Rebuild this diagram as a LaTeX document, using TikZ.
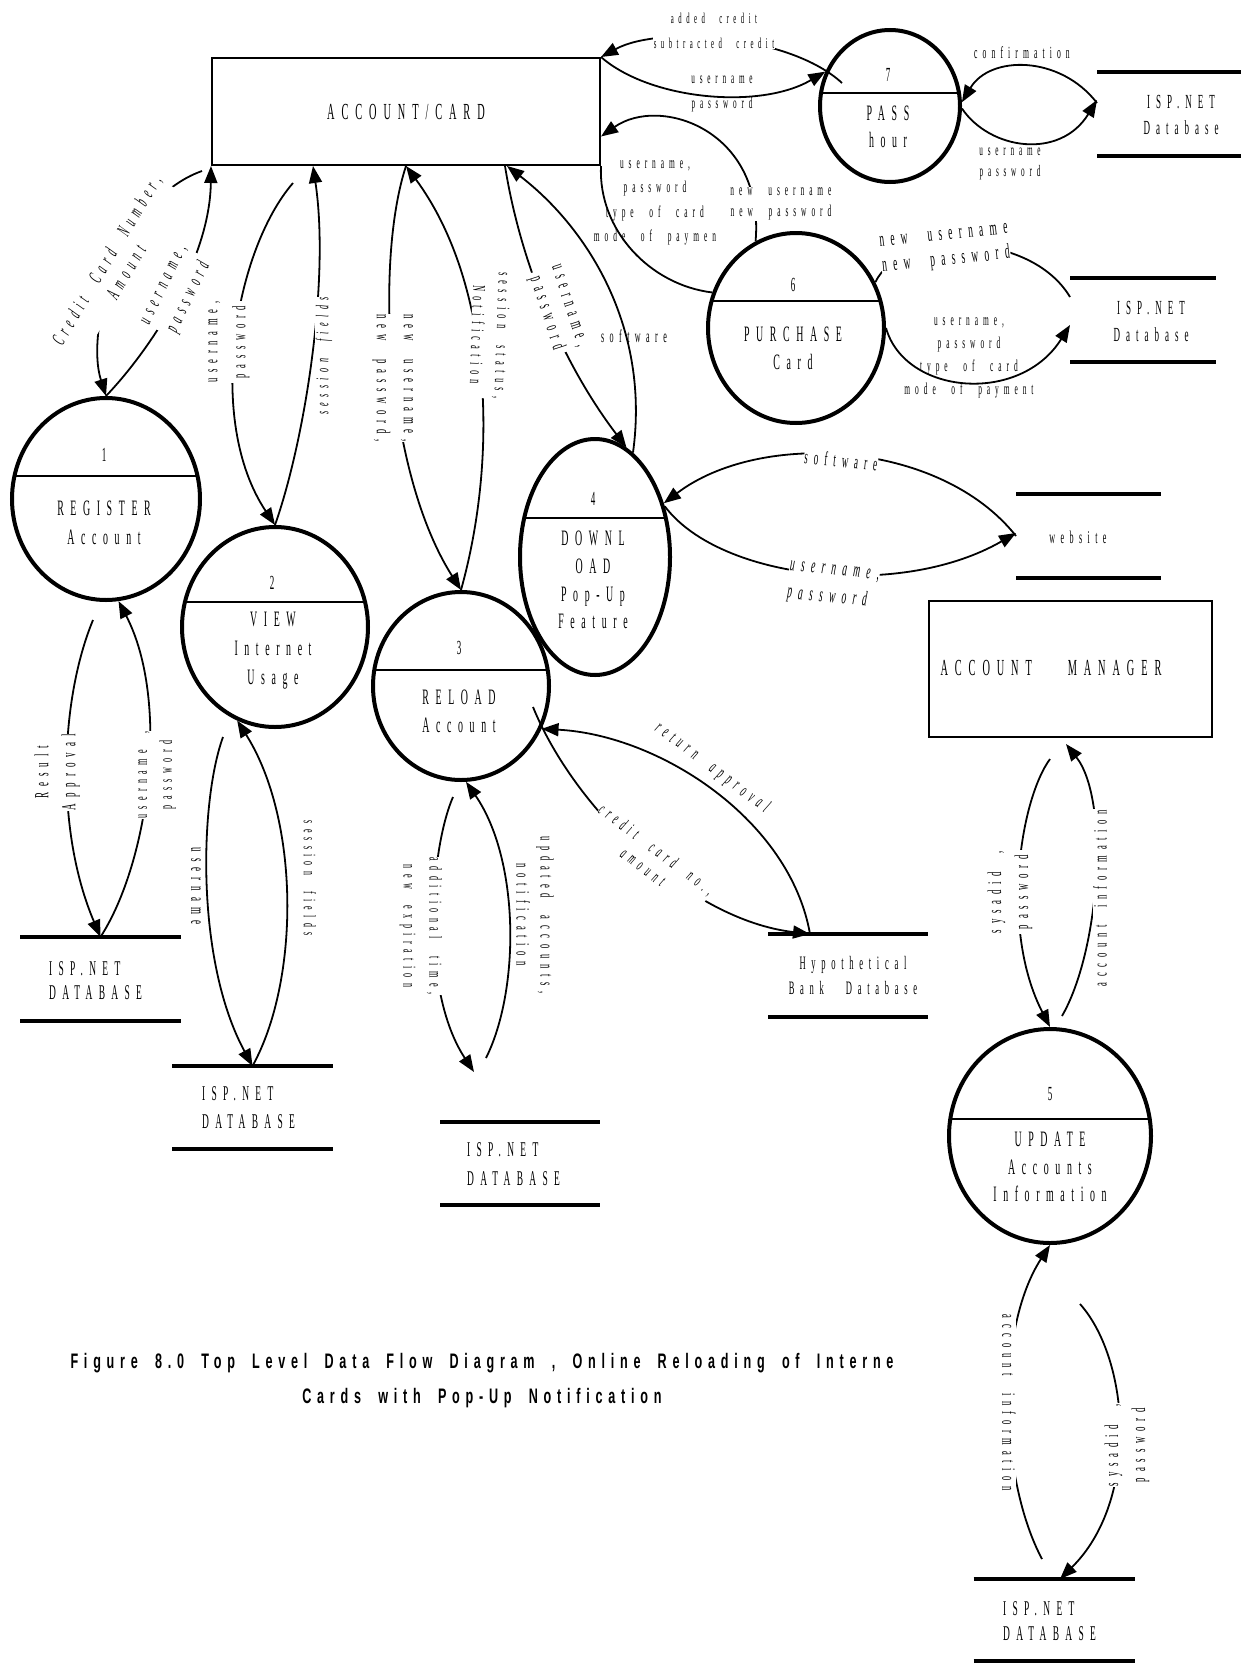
\documentclass[tikz,border=0pt]{standalone}
\usepackage{fontspec}
\newfontfamily\lf[FakeStretch=0.45,LetterSpace=30,WordSpace=2.3]{Liberation Serif}
\newfontfamily\cf[FakeStretch=0.6,LetterSpace=27.5,WordSpace=1.85]{Liberation Sans}
\usetikzlibrary{shapes.geometric,arrows.meta,calc}
\newcommand\lfs[2]{\lf\fontsize{#1}{#2}\selectfont}
\begin{document}
\begin{tikzpicture}[x=1pt,y=-1pt,
  lab/.style={font=\lfs{17}{21}, align=center, inner sep=0.5pt, text=black},
  wlab/.style={lab, fill=white},
  proc/.style={ellipse, draw, line width=4pt, inner sep=0pt},
  divl/.style={line width=2pt},
  ptxt/.style={font=\lfs{22}{29}, align=center, inner sep=0pt},
  pnum/.style={font=\lfs{20}{24}, inner sep=0pt},
  ent/.style={draw, line width=2pt, inner sep=0pt},
  dstore/.style={inner sep=0pt, outer sep=0pt},
  sline/.style={line width=4pt},
  stxt/.style={font=\lfs{21}{24}, align=left, anchor=west, inner sep=0pt},
  dfline/.style={line width=1.8pt},
  dfarr/.style={dfline, -{Triangle[length=17pt,width=13pt]}},
]
\useasboundingbox (0,0) rectangle (1241,1665);

% ---------- external entities
\node[ent, minimum width=388pt, minimum height=107pt, font=\lfs{23}{28}] (acc) at (406,111.5) {ACCOUNT/CARD};
\node[ent, minimum width=283pt, minimum height=136pt] (mgr) at (1070.5,669) {};
\node[font=\lfs{23}{28}, inner sep=0pt] (mgrt) at (1051,668) {ACCOUNT\hspace{14pt} MANAGER};

% ---------- processes
\node[proc, minimum width=188pt, minimum height=202pt] (p1) at (106,499) {};
\draw[divl] (14.5,476) -- (197.5,476);
\node[pnum] (p1n) at (104,455) {1};
\node[ptxt] (p1t) at (104,523) {REGISTER\\Account};

\node[proc, minimum width=186pt, minimum height=200pt] (p2) at (275,627) {};
\draw[divl] (185,602) -- (365,602);
\node[pnum] (p2n) at (272,583) {2};
\node[ptxt] (p2t) at (273,651) {VIEW\\Internet\\Usage};

\node[proc, minimum width=176pt, minimum height=188pt] (p3) at (461,686) {};
\draw[divl] (374.3,670) -- (547.7,670);
\node[pnum] (p3n) at (459,648) {3};
\node[ptxt, font=\lfs{22}{28}] (p3t) at (459,711) {RELOAD\\Account};

\node[proc, minimum width=150pt, minimum height=236pt] (p4) at (595,557) {};
\draw[divl] (524.2,518) -- (665.8,518);
\node[pnum] (p4n) at (593,499) {4};
\node[ptxt, font=\lfs{22}{27.7}] (p4t) at (593,580) {DOWNL\\OAD\\Pop-Up\\Feature};

\node[proc, minimum width=202pt, minimum height=214pt] (p5) at (1050,1136) {};
\draw[divl] (950.3,1119) -- (1149.7,1119);
\node[pnum] (p5n) at (1050,1094) {5};
\node[ptxt, font=\lfs{22}{27.5}] (p5t) at (1050,1167) {UPDATE\\Accounts\\Information};

\node[proc, minimum width=176pt, minimum height=190pt] (p6) at (796,328) {};
\draw[divl] (711.6,301) -- (880.4,301);
\node[pnum] (p6n) at (793,285) {6};
\node[ptxt, font=\lfs{22}{28}] (p6t) at (793,348) {PURCHASE\\Card};

\node[proc, minimum width=140pt, minimum height=152pt] (p7) at (890,106) {};
\draw[divl] (821,93) -- (959,93);
\node[pnum] (p7n) at (888,75) {7};
\node[ptxt, font=\lfs{22}{27}] (p7t) at (888,126.5) {PASS\\hour};

% ---------- data stores
\node[dstore, minimum width=144pt, minimum height=84pt] (d7) at (1169,114) {};
\draw[sline] (d7.north west) -- (d7.north east) (d7.south west) -- (d7.south east);
\node[font=\lfs{20}{26}, align=center, inner sep=0pt] (d7t) at (1181,115) {ISP.NET\\Database};

\node[dstore, minimum width=146pt, minimum height=84pt] (d6) at (1143,320) {};
\draw[sline] (d6.north west) -- (d6.north east) (d6.south west) -- (d6.south east);
\node[font=\lfs{20}{27}, align=center, inner sep=0pt] (d6t) at (1151,321) {ISP.NET\\Database};

\node[dstore, minimum width=145pt, minimum height=84pt] (dw) at (1088.5,536) {};
\draw[sline] (dw.north west) -- (dw.north east) (dw.south west) -- (dw.south east);
\node[font=\lfs{18}{22}, inner sep=0pt] (dwt) at (1078,537) {website};

\node[dstore, minimum width=160pt, minimum height=83pt] (dbank) at (848,975.5) {};
\draw[sline] (dbank.north west) -- (dbank.north east) (dbank.south west) -- (dbank.south east);
\node[font=\lfs{19}{25}, align=center, inner sep=0pt] (dbt) at (853,975) {Hypothetical\\Bank\hspace{4pt} Database};

\node[dstore, minimum width=161pt, minimum height=84pt] (d1) at (100.5,979) {};
\draw[sline] (d1.north west) -- (d1.north east) (d1.south west) -- (d1.south east);
\node[stxt] (d1t) at (49,981) {ISP.NET\\DATABASE};

\node[dstore, minimum width=161pt, minimum height=83pt] (d2) at (252.5,1107.5) {};
\draw[sline] (d2.north west) -- (d2.north east) (d2.south west) -- (d2.south east);
\node[stxt, font=\lfs{21}{28}] (d2t) at (202,1108) {ISP.NET\\DATABASE};

\node[dstore, minimum width=160pt, minimum height=83pt] (d3) at (520,1163.5) {};
\draw[sline] (d3.north west) -- (d3.north east) (d3.south west) -- (d3.south east);
\node[stxt, font=\lfs{21}{29}] (d3t) at (467,1164.5) {ISP.NET\\DATABASE};

\node[dstore, minimum width=161pt, minimum height=82pt] (d5) at (1054,1620) {};
\draw[sline] (d5.north west) -- (d5.north east) (d5.south west) -- (d5.south east);
\node[stxt, font=\lfs{21}{25}] (d5t) at (1003,1621) {ISP.NET\\DATABASE};

% ---------- free connector ends
\coordinate (c1s) at (842,83);
\coordinate (c12s) at (533,707);
\coordinate (c13s) at (202,171);
\coordinate (c15s) at (293,183);
\coordinate (c21s) at (93,620);
\coordinate (c23s) at (223,737);
\coordinate (c25s) at (453,797);
\coordinate (c25e) at (474,1072);
\coordinate (c26s) at (486,1058);
\coordinate (c27s) at (1050,759);
\coordinate (c28s) at (1062,1016);
\coordinate (c28e) at (1066,744);
\coordinate (c29s) at (1042,1559);
\coordinate (c30s) at (1080,1304);

% ---------- connectors
\draw[dfarr] (c1s) .. controls (790,35) and (660,25) .. (acc.north east);
\draw[dfarr] (acc.north east) .. controls (650,100) and (760,110) .. (p7.152);
\draw[dfarr] ([yshift=11pt]d7.west) .. controls (1060,55) and (990,55) .. (p7.3);
\draw[dfarr] (p7.-2) .. controls (990,150) and (1060,160) .. ([yshift=14pt]d7.west);
\draw[dfarr] (p6.115) .. controls (765,130) and (660,95) .. ([yshift=-25pt]acc.east);
\draw[dfline] (acc.south east) .. controls (598,230) and (650,285) .. (p6.157);
\draw[dfline] (p6.30) .. controls (900,230) and (1030,230) .. ([yshift=23pt]d6.west);
\draw[dfarr] (p6.0) .. controls (905,395) and (1020,405) .. ([yshift=-5pt]d6.west);
\draw[dfarr] (dw.west) .. controls (940,440) and (760,430) .. (p4.38);
\draw[dfarr] (p4.36) .. controls (720,580) and (900,600) .. ([yshift=3pt]dw.west);
\draw[dfarr] ([xshift=-38pt]dbank.north) .. controls (790,820) and (660,735) .. (p3.-28);
\draw[dfarr] (c12s) .. controls (575,810) and (690,920) .. ([xshift=-38pt]dbank.north);
\draw[dfarr] (c13s) .. controls (120,200) and (85,330) .. (p1.north);
\draw[dfarr] (p1.north) .. controls (150,350) and (210,260) .. (acc.south west);
\draw[dfarr] (c15s) .. controls (235,250) and (205,420) .. (p2.north);
\draw[dfarr] (p2.north) .. controls (305,440) and (330,280) .. ([xshift=-93pt]acc.south);
\draw[dfarr] (acc.south) .. controls (375,260) and (385,470) .. (p3.north);
\draw[dfarr] (p3.north) .. controls (500,450) and (490,280) .. (acc.south);
\draw[dfarr] ([xshift=99pt]acc.south) .. controls (520,260) and (560,360) .. (p4.74);
\draw[dfarr] (p4.70) .. controls (650,330) and (590,230) .. ([xshift=101pt]acc.south);
\draw[dfarr] (c21s) .. controls (60,700) and (55,830) .. (d1.north);
\draw[dfarr] (d1.north) .. controls (150,860) and (170,700) .. (p1.-83);
\draw[dfarr] (c23s) .. controls (200,800) and (195,960) .. (d2.north);
\draw[dfarr] (d2.north) .. controls (300,980) and (300,820) .. (p2.-112);
\draw[dfarr] (c25s) .. controls (430,850) and (420,990) .. (c25e);
\draw[dfarr] (c26s) .. controls (520,990) and (520,860) .. (p3.-87);
\draw[dfarr] (c27s) .. controls (1020,800) and (1000,930) .. (p5.north);
\draw[dfarr] (c28s) .. controls (1100,950) and (1110,800) .. (c28e);
\draw[dfarr] (c29s) .. controls (1000,1480) and (995,1330) .. (p5.south);
\draw[dfarr] (c30s) .. controls (1130,1360) and (1140,1500) .. ([xshift=6pt]d5.north);

% ---------- flow labels
\node[wlab, font=\lfs{15}{25}] (l1) at (714,31) {added credit\\subtracted credit};
\node[lab, font=\lfs{16}{25}] (l2) at (722,94) {username\\password};
\node[lab] (l3) at (1022,53) {confirmation};
\node[lab, font=\lfs{16}{21}] (l4) at (1010,164) {username\\password};
\node[wlab, font=\lfs{16.5}{21}] (l5) at (781,204) {new username\\new password};
\node[lab, font=\lfs{16.5}{24.5}] (l6) at (655,203) {username,\\password\\type of card\\mode of paymen};
\node[wlab, font=\lfs{21}{25}, rotate=6] (l7) at (945,250) {new username\\new password};
\node[lab, font=\lfs{16.5}{23}] (l8) at (969,358) {username,\\password\\type of card\\mode of payment};
\node[wlab, font=\lfs{20}{21}, rotate=-6] (l9) at (841,460) {software};
\node[wlab, font=\lfs{21}{28}\itshape, align=left, rotate=-6] (l10) at (833,586) {username,\\password};
\node[wlab, font=\lfs{19}{21}\itshape, rotate=-37] (l11) at (712,768) {return approval};
\node[wlab, font=\lfs{18}{22}\itshape, rotate=-37] (l12) at (650,858) {credit card no.,\\amount};
\node[wlab, font=\lfs{20}{23}\itshape, rotate=59] (l13) at (116,266) {Credit Card Number,\\Amount};
\node[wlab, font=\lfs{20}{28}\itshape, rotate=64] (l14) at (178,292) {username,\\password};
\node[wlab, font=\lfs{19}{28}, rotate=90] (l15) at (229,342) {username,\\password};
\node[wlab, font=\lfs{18}{21}\itshape, rotate=90] (l16) at (324,356) {session fields};
\node[wlab, font=\lfs{19.5}{27}, rotate=-90] (l17) at (393,378) {new username,\\new password,};
\node[wlab, font=\lfs{18}{25}, rotate=-92] (l18) at (490,335) {session status,\\Notification};
\node[wlab, font=\lfs{20}{24}, rotate=-72] (l19) at (556,310) {username,\\password};
\node[lab, font=\lfs{18}{21}] (l20) at (634,336) {software};
\node[wlab, font=\lfs{20}{27}, rotate=90] (l21) at (57,772) {Result\\Approval};
\node[wlab, font=\lfs{18}{25}, rotate=90] (l22) at (157,775) {username ,\\password};
\node[wlab, font=\lfs{20}{22}, rotate=-90] (l23) at (196,886) {username};
\node[wlab, font=\lfs{17.5}{21}, rotate=-90] (l24) at (310,878) {session fields};
\node[wlab, font=\lfs{18}{26}, rotate=-90] (l25) at (421,926) {additional time,\\new expiration};
\node[wlab, font=\lfs{19}{24}, rotate=-90] (l26) at (535,915) {updated accounts,\\notification};
\node[wlab, font=\lfs{19.5}{27}, rotate=90] (l27) at (1010,892) {sysadid ,\\password};
\node[wlab, font=\lfs{19}{21}, rotate=90] (l28) at (1100,898) {account information};
\node[wlab, font=\lfs{19}{21}, rotate=-90] (l29) at (1009,1403) {account information};
\node[wlab, font=\lfs{19.5}{27}, rotate=90] (l30) at (1127,1445) {sysadid ,\\password};

% ---------- caption
\node[font=\cf\bfseries\fontsize{21}{35}\selectfont, align=center, inner sep=0pt] (cap) at (482,1381)
  {Figure 8.0 Top Level Data Flow Diagram , Online Reloading of Interne\\Cards with Pop-Up Notification};
\end{tikzpicture}
\end{document}
